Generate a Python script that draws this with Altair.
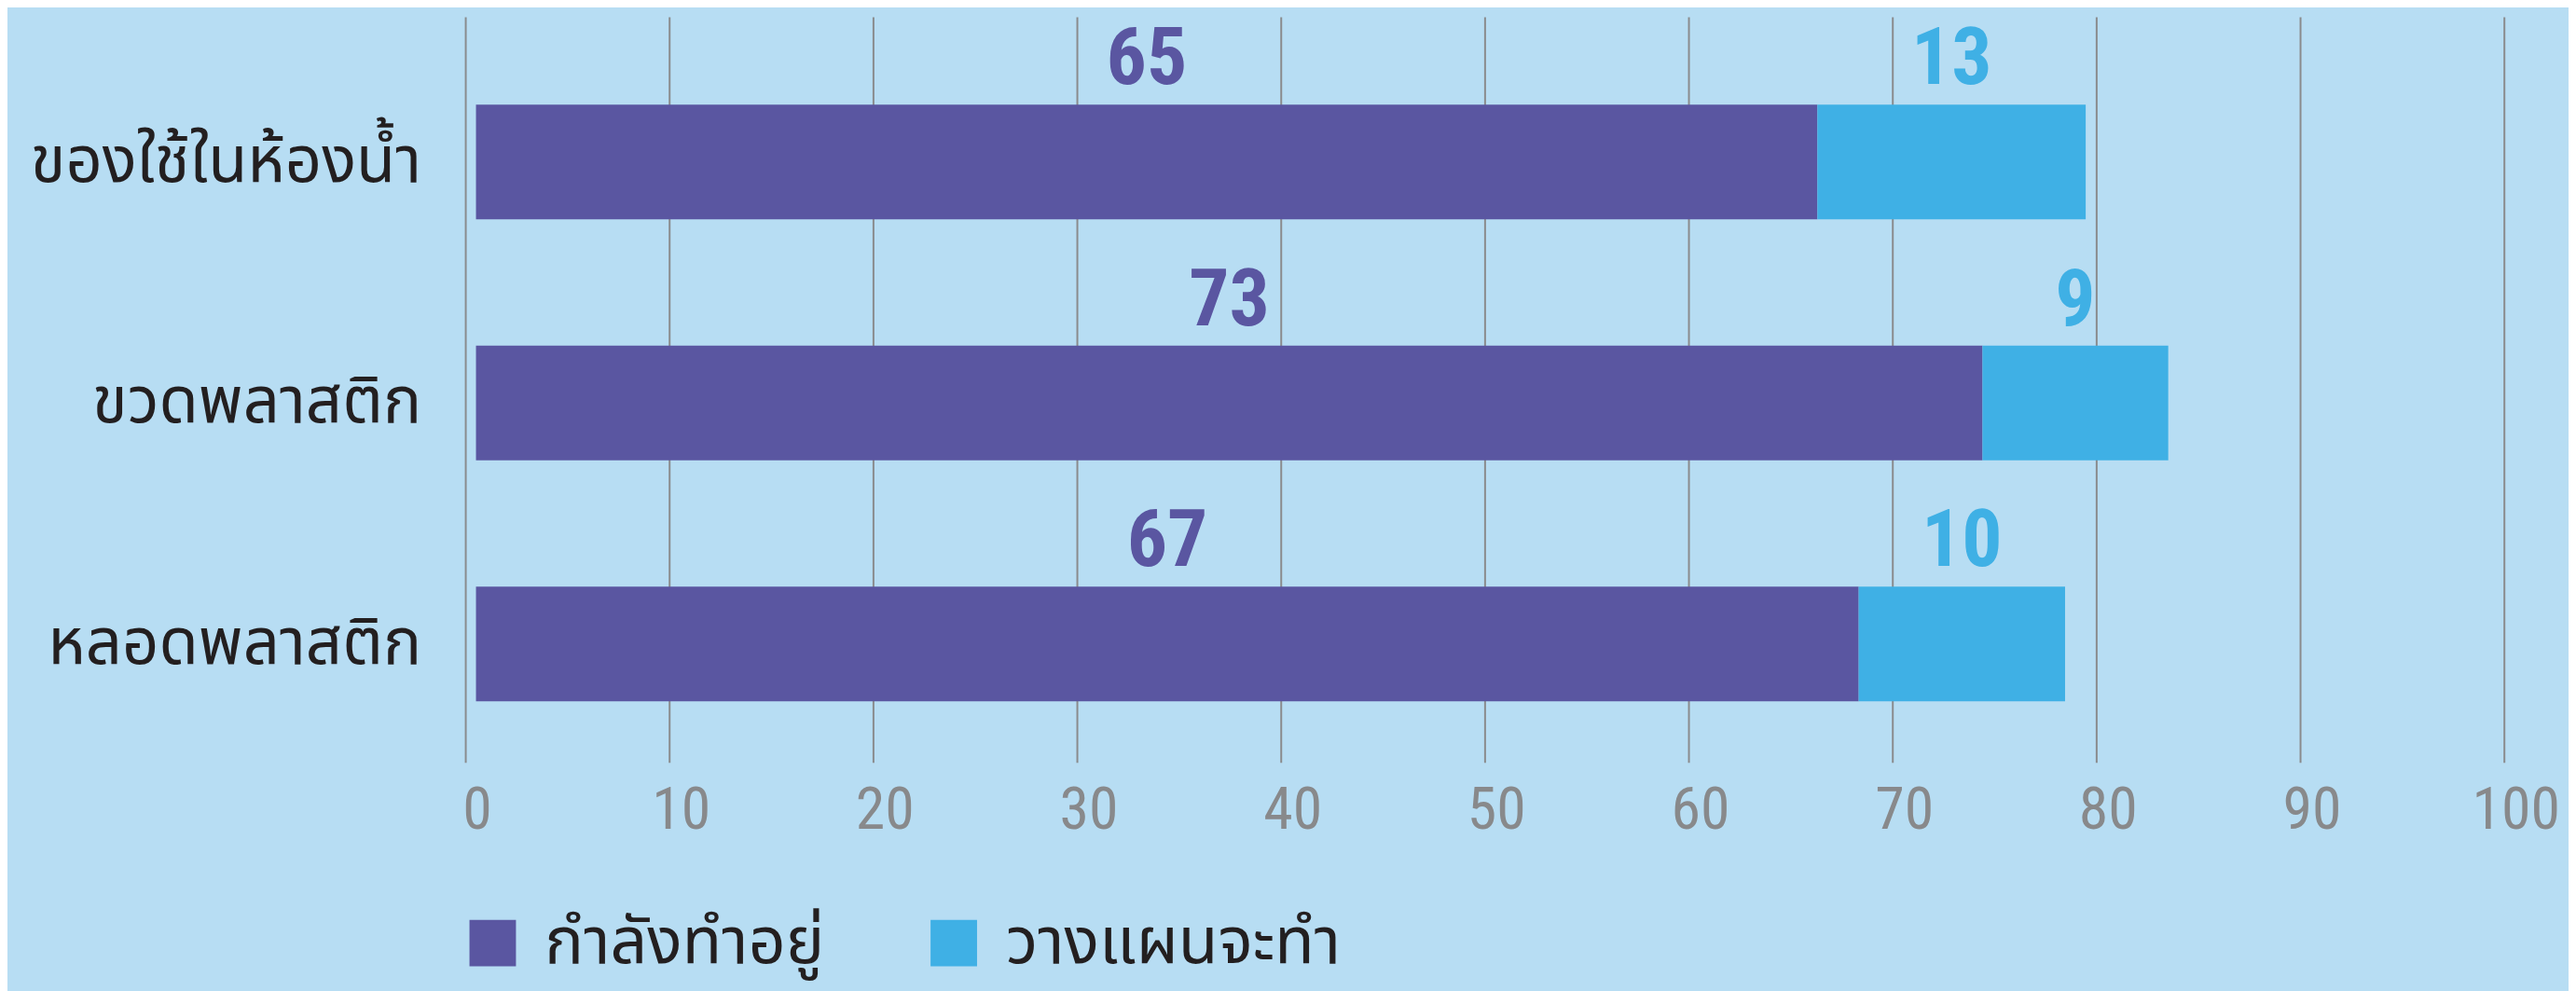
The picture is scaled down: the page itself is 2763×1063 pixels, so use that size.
import altair as alt
import pandas as pd

categories = ["ของใช้ในห้องน้ำ", "ขวดพลาสติก", "หลอดพลาสติก"]
series = ["กำลังทำอยู่", "วางแผนจะทำ"]
doing = [65, 73, 67]
planning = [13, 9, 10]
tick_values = [0, 10, 20, 30, 40, 50, 60, 70, 80, 90, 100]

rows = []
for c, d, p in zip(categories, doing, planning):
    rows.append({"category": c, "series": series[0], "value": d, "order": 0})
    rows.append({"category": c, "series": series[1], "value": p, "order": 1})
df = pd.DataFrame(rows)
grid_df = pd.DataFrame({"tick": tick_values})

BG = "#b7ddf3"
COLORS = ["#5a56a1", "#3fb0e5"]
THAI = "Noto Sans Thai, Noto Sans Thai Looped, Noto Sans, sans-serif"
NUM = "Roboto Condensed, Roboto, sans-serif"

bar_x_scale = alt.Scale(domain=[0, 100], range=[11, 2231], nice=False)

y_enc = alt.Y(
    "category:N",
    sort=categories,
    scale=alt.Scale(range=[94, 736], paddingInner=0.524, paddingOuter=0),
    axis=alt.Axis(
        title=None, ticks=False, domain=False, labelFont=THAI,
        labelFontSize=69, labelColor="#231f20", labelPadding=48, labelLimit=0,
    ),
)

legend = alt.Legend(
    title=None, orient="none", legendX=-6, legendY=961, direction="horizontal",
    symbolType="square", symbolSize=2500, symbolStrokeWidth=0, symbolOpacity=1,
    labelFont=THAI, labelFontSize=70, labelColor="#231f20", labelOffset=21,
    columnPadding=104, labelLimit=0,
)
color_enc = alt.Color("series:N", scale=alt.Scale(domain=series, range=COLORS), legend=legend)

grid = alt.Chart(grid_df).mark_rule(color="#8a8b8d", strokeWidth=2).encode(
    x=alt.X(
        "tick:Q",
        scale=alt.Scale(domain=[0, 100], nice=False),
        axis=alt.Axis(
            values=tick_values, grid=False, ticks=False, domain=False, title=None,
            labelFont=NUM, labelFontSize=64, labelColor="#88898b",
            labelPadding=20, labelOffset=12, labelFlush=False,
        ),
    )
)

base = alt.Chart(df).transform_stack(
    stack="value", groupby=["category"], sort=[alt.SortField("order")], as_=["v0", "v1"]
)

bars = base.mark_bar().encode(
    x=alt.X("v0:Q", scale=bar_x_scale, axis=None),
    x2="v1:Q",
    y=y_enc,
    color=color_enc,
)

labels = base.transform_calculate(mid="(datum.v0 + datum.v1) / 2").mark_text(
    font=NUM, fontWeight="bold", fontSize=86, baseline="alphabetic", dy=-84
).encode(
    x=alt.X("mid:Q", scale=bar_x_scale, axis=None),
    y=y_enc,
    text="value:Q",
    color=color_enc,
)

chart = (
    alt.layer(grid, bars, labels)
    .resolve_scale(x="independent")
    .properties(
        width=2193, height=802, background=BG,
        autosize=alt.AutoSizeParams(type="none"),
        padding={"left": 493, "top": 9, "right": 69, "bottom": 244},
    )
    .configure_view(stroke=None)
)

chart.save("out.html", embed_options={"renderer": "svg", "actions": False})
